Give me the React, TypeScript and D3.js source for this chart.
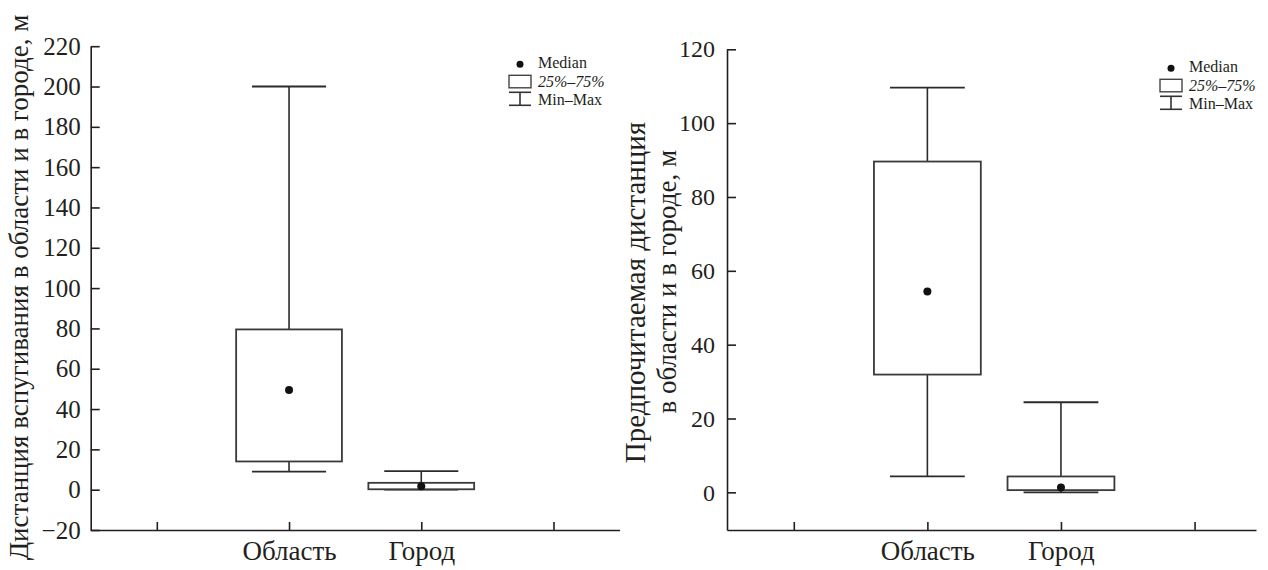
import React, { useEffect, useRef } from "react";
import * as d3 from "d3";

const categories = ["Область", "Город"];
const xTickValues = [0, 1, 2, 3];

// Left panel: flush distance
const fleeMin = [9, 0];
const fleeQ1 = [14, 0.2];
const fleeMedian = [49.5, 1.7];
const fleeQ3 = [79.5, 3.4];
const fleeMax = [200, 9.2];
const leftTicks = [-20, 0, 20, 40, 60, 80, 100, 120, 140, 160, 180, 200, 220];

// Right panel: preferred distance
const prefMin = [4.3, 0];
const prefQ1 = [31.9, 0.6];
const prefMedian = [54.4, 1.3];
const prefQ3 = [89.6, 4.3];
const prefMax = [109.6, 24.4];
const rightTicks = [0, 20, 40, 60, 80, 100, 120];

const legendLabels = ["Median", "25%–75%", "Min–Max"];

const FONT = "Liberation Serif";
const INK = "#231f20";

type PanelProps = {
  xRange: [number, number];
  xDomain: [number, number];
  yDomain: [number, number];
  yRange: [number, number];
  ticks: number[];
  mins: number[];
  q1: number[];
  med: number[];
  q3: number[];
  maxs: number[];
  tickFont: number;
  tickPad: number;
  titleLines: string[];
  titleX: number[];
  titleY: number[];
  titleSize: number[];
  legendX: number;
  legendY: number;
};

function Panel(p: PanelProps) {
  const yAxisRef = useRef<SVGGElement>(null);
  const xAxisRef = useRef<SVGGElement>(null);
  const x = d3.scaleLinear().domain(p.xDomain).range(p.xRange);
  const y = d3.scaleLinear().domain(p.yDomain).range(p.yRange);
  const step = x(1) - x(0);

  useEffect(() => {
    const ya = d3
      .axisLeft(y)
      .tickValues(p.ticks)
      .tickSizeInner(-9)
      .tickSizeOuter(0)
      .tickPadding(p.tickPad)
      .tickFormat((d) => {
        const v = d as number;
        return v < 0 ? "\u2212" + Math.abs(v) : String(v);
      });
    const gy = d3.select(yAxisRef.current!);
    gy.call(ya as any);
    gy.attr("font-family", FONT).attr("font-size", p.tickFont);
    gy.selectAll("path,line").attr("stroke", INK).attr("stroke-width", 1.6);
    gy.selectAll("text").attr("fill", INK).attr("font-family", FONT);

    const xa = d3
      .axisBottom(x)
      .tickValues(xTickValues)
      .tickSizeInner(-8)
      .tickSizeOuter(0)
      .tickPadding(11)
      .tickFormat((d) => {
        const i = (d as number) - 1;
        return categories[i] ?? "";
      });
    const gx = d3.select(xAxisRef.current!);
    gx.call(xa as any);
    gx.attr("font-family", FONT).attr("font-size", 27);
    gx.selectAll("path,line").attr("stroke", INK).attr("stroke-width", 1.6);
    gx.selectAll("text").attr("fill", INK).attr("font-family", FONT);
  });

  const y0 = p.yRange[0];
  const boxW = step * 0.8;
  const capW = step * 0.56;

  return (
    <g>
      <g ref={yAxisRef} transform={`translate(${p.xRange[0]},0)`} />
      <g ref={xAxisRef} transform={`translate(0,${y0})`} />
      {categories.map((c, i) => {
        const cx = x(i + 1);
        return (
          <g key={c} stroke="#2b2b2b" fill="none">
            <line x1={cx} x2={cx} y1={y(p.maxs[i])} y2={y(p.q3[i])} strokeWidth={1.6} />
            <line x1={cx} x2={cx} y1={y(p.q1[i])} y2={y(p.mins[i])} strokeWidth={1.6} />
            <line x1={cx - capW / 2} x2={cx + capW / 2} y1={y(p.maxs[i])} y2={y(p.maxs[i])} strokeWidth={1.8} />
            <line x1={cx - capW / 2} x2={cx + capW / 2} y1={y(p.mins[i])} y2={y(p.mins[i])} strokeWidth={1.8} />
            <rect
              x={cx - boxW / 2}
              width={boxW}
              y={y(p.q3[i])}
              height={y(p.q1[i]) - y(p.q3[i])}
              fill="#fff"
              stroke="#3a3a3a"
              strokeWidth={1.8}
            />
            <circle cx={cx} cy={y(p.med[i])} r={4} fill="#111" stroke="none" />
          </g>
        );
      })}
      {p.titleLines.map((t, i) => (
        <text
          key={t}
          transform={`translate(${p.titleX[i]},${p.titleY[i]}) rotate(-90)`}
          textAnchor="middle"
          fontFamily={FONT}
          fontSize={p.titleSize[i]}
          fill={INK}
        >
          {t}
        </text>
      ))}
      <g fill={INK}>
        <circle cx={p.legendX + 11} cy={p.legendY} r={3.5} fill="#111" />
        <text x={p.legendX + 29} y={p.legendY + 4} fontFamily={FONT} fontSize={16}>{legendLabels[0]}</text>
        <rect
          x={p.legendX}
          y={p.legendY + 11}
          width={22}
          height={12.5}
          fill="#fff"
          stroke="#444"
          strokeWidth={1.4}
        />
        <text x={p.legendX + 29} y={p.legendY + 22.5} fontFamily={FONT} fontSize={16} fontStyle="italic">{legendLabels[1]}</text>
        <g stroke="#333" strokeWidth={1.6}>
          <line x1={p.legendX} x2={p.legendX + 22} y1={p.legendY + 28} y2={p.legendY + 28} />
          <line x1={p.legendX + 11} x2={p.legendX + 11} y1={p.legendY + 28} y2={p.legendY + 41} />
          <line x1={p.legendX} x2={p.legendX + 22} y1={p.legendY + 41} y2={p.legendY + 41} />
        </g>
        <text x={p.legendX + 29} y={p.legendY + 41} fontFamily={FONT} fontSize={16}>{legendLabels[2]}</text>
      </g>
    </g>
  );
}

export default function App() {
  return (
    <svg
      width={1268}
      height={570}
      fontFamily={FONT}
      style={{ position: "absolute", left: 0, top: 0, background: "#fff" }}
    >
      <rect width={1268} height={570} fill="#fff" />
      <Panel
        xDomain={[-0.5, 3.5]}
        xRange={[90.7, 619.6]}
        yDomain={[-20, 220]}
        yRange={[530, 46.2]}
        ticks={leftTicks}
        mins={fleeMin}
        q1={fleeQ1}
        med={fleeMedian}
        q3={fleeQ3}
        maxs={fleeMax}
        tickFont={25}
        tickPad={10}
        titleLines={["Дистанция вспугивания в области и в городе, м"]}
        titleX={[28]}
        titleY={[287.5]}
        titleSize={[27]}
        legendX={509}
        legendY={64.3}
      />
      <Panel
        xDomain={[-0.5, 3.46]}
        xRange={[727, 1256]}
        yDomain={[-10.2, 120]}
        yRange={[530, 49.3]}
        ticks={rightTicks}
        mins={prefMin}
        q1={prefQ1}
        med={prefMedian}
        q3={prefQ3}
        maxs={prefMax}
        tickFont={24}
        tickPad={12}
        titleLines={["Предпочитаемая дистанция", "в области и в городе, м"]}
        titleX={[645, 676]}
        titleY={[292.5, 281.7]}
        titleSize={[29, 27]}
        legendX={1160}
        legendY={68.3}
      />
    </svg>
  );
}
